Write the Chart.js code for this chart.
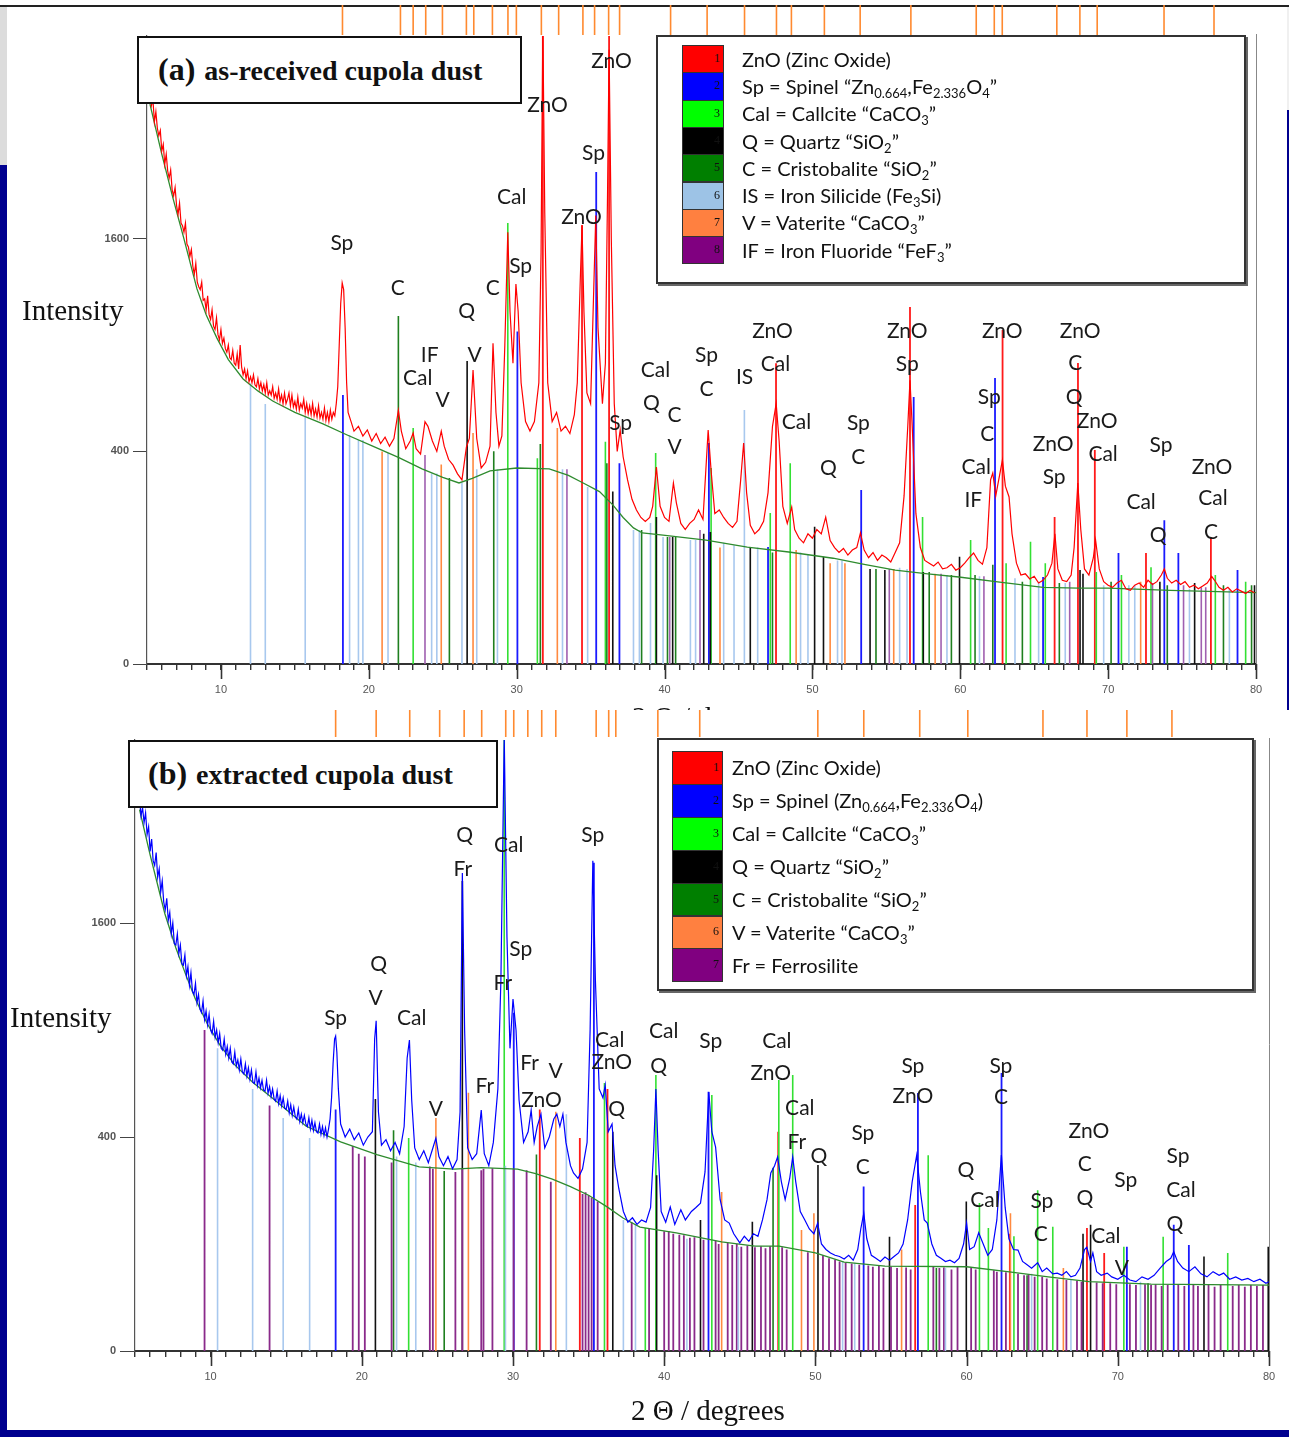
<!DOCTYPE html>
<html><head><meta charset="utf-8">
<script src="https://cdn.jsdelivr.net/npm/chart.js@4.4.1/dist/chart.umd.min.js"></script>
<style>
html,body{margin:0;padding:0;}
body{width:1289px;height:1437px;background:#00008f;position:relative;overflow:hidden;}
.abs{position:absolute;}
canvas{position:absolute;left:0;}
.tbox{position:absolute;background:#fff;border:2px solid #111;box-sizing:border-box;font-family:"Liberation Serif","DejaVu Serif",serif;font-weight:bold;color:#111;white-space:nowrap;}
.tbox .p{font-size:32px;}
.tbox .t{font-size:28px;margin-left:9px;}
.lab{position:absolute;font-family:"Liberation Serif",serif;color:#111;white-space:nowrap;line-height:1;}
.leg{position:absolute;background:#fff;border:2px solid #333;box-shadow:2px 2px 0 #666;box-sizing:border-box;}
.sw{position:absolute;box-sizing:border-box;border:1px solid #333;}
.sw span{position:absolute;right:3px;top:50%;transform:translateY(-55%);font-family:"Liberation Serif",serif;font-size:12px;color:#111;}
.lt{position:absolute;font-family:Lato,"Open Sans",sans-serif;font-size:20px;color:#111;white-space:nowrap;line-height:1;transform:translateY(-50%);}
.lt sub{font-size:13px;vertical-align:-4px;line-height:0;}
</style>
</head><body>
<div class="abs" style="left:0;top:0;width:1289px;height:5px;background:#fff"></div>
<div class="abs" style="left:0;top:5px;width:1289px;height:2px;background:#222"></div>
<div class="abs" style="left:0;top:7px;width:7px;height:158px;background:#dcdcdc"></div>
<div class="abs" style="left:1287px;top:7px;width:2px;height:103px;background:#f0f0f0"></div>
<div class="abs" style="left:7px;top:7px;width:1280px;height:703px;background:#fff"></div>
<canvas id="ca" width="1289" height="710" style="top:0"></canvas>
<div class="lab" style="left:632px;top:703px;font-size:29px;">2 &Theta; / degrees</div>
<div class="abs" style="left:7px;top:710px;width:1282px;height:720px;background:#fff"></div>
<canvas id="cb" width="1289" height="720" style="top:710px"></canvas>

<div class="tbox" style="left:137px;top:36px;width:385px;height:68px;padding-left:19px;line-height:62px;"><span class="p">(a)</span><span class="t">as-received cupola dust</span></div>
<div class="tbox" style="left:128px;top:740px;width:370px;height:68px;padding-left:18px;line-height:62px;"><span class="p">(b)</span><span class="t">extracted cupola dust</span></div>
<div class="lab" style="left:22px;top:296px;font-size:29px;">Intensity</div>
<div class="lab" style="left:10px;top:1003px;font-size:29px;">Intensity</div>
<div class="lab" style="left:631px;top:1396px;font-size:29px;">2 &Theta; / degrees</div>

<div class="leg" id="lega" style="left:656px;top:35px;width:590px;height:249px;"></div>
<div class="leg" id="legb" style="left:657px;top:738px;width:597px;height:253px;"></div>

<script>
// ---------------- DATA: (a) as-received cupola dust ----------------
const aAngles = [5.2,5.3,5.4,5.5,5.6,5.7,5.8,5.9,6.0,6.1,6.2,6.3,6.4,6.5,6.6,6.7,6.8,6.9,7.0,7.1,7.2,7.3,7.4,7.5,7.6,7.7,7.8,7.9,8.0,8.1,8.2,8.3,8.4,8.5,8.6,8.7,8.8,8.9,9.0,9.1,9.2,9.3,9.4,9.5,9.6,9.7,9.8,9.9,10.0,10.1,10.2,10.3,10.4,10.5,10.6,10.7,10.8,10.9,11.0,11.1,11.2,11.3,11.4,11.5,11.6,11.7,11.8,11.9,12.0,12.1,12.2,12.3,12.4,12.5,12.6,12.7,12.8,12.9,13.0,13.1,13.2,13.3,13.4,13.5,13.6,13.7,13.8,13.9,14.0,14.1,14.2,14.3,14.4,14.5,14.6,14.7,14.8,14.9,15.0,15.1,15.2,15.3,15.4,15.5,15.6,15.7,15.8,15.9,16.0,16.1,16.2,16.3,16.4,16.5,16.6,16.7,16.8,16.9,17.0,17.1,17.2,17.3,17.4,17.5,17.6,17.7,17.8,17.9,18.0,18.1,18.2,18.3,18.4,18.5,18.6,18.8,19.0,19.3,19.6,19.9,20.2,20.5,20.8,21.1,21.4,21.7,22.0,22.2,22.5,22.8,23.0,23.2,23.5,23.8,24.0,24.3,24.6,24.9,25.1,25.4,25.7,26.0,26.3,26.6,26.8,27.05,27.3,27.6,27.9,28.2,28.4,28.6,28.8,29.0,29.2,29.4,29.55,29.75,29.95,30.1,30.3,30.6,30.9,31.2,31.5,31.65,31.77,31.9,32.1,32.4,32.7,33.0,33.3,33.6,33.9,34.1,34.3,34.42,34.55,34.75,35.0,35.2,35.35,35.5,35.8,36.0,36.15,36.25,36.4,36.6,36.8,37.0,37.2,37.5,37.8,38.1,38.4,38.7,39.0,39.2,39.45,39.7,40.0,40.3,40.6,40.8,41.1,41.4,41.7,42.0,42.3,42.6,42.95,43.15,43.4,43.7,44.0,44.3,44.6,44.9,45.15,45.35,45.55,45.8,46.1,46.4,46.7,47.0,47.3,47.55,47.75,48.0,48.3,48.6,48.8,49.1,49.4,49.7,50.0,50.3,50.6,50.9,51.2,51.5,51.8,52.1,52.4,52.7,53.0,53.25,53.5,53.8,54.1,54.4,54.7,55.0,55.3,55.6,55.9,56.2,56.45,56.6,56.75,57.0,57.3,57.6,57.9,58.2,58.5,58.8,59.1,59.4,59.7,60.0,60.3,60.6,60.9,61.2,61.5,61.8,62.05,62.2,62.4,62.6,62.85,63.05,63.3,63.5,63.8,64.1,64.4,64.7,65.0,65.3,65.6,65.9,66.2,66.4,66.6,66.9,67.2,67.5,67.7,67.95,68.15,68.4,68.7,69.0,69.15,69.4,69.7,70.0,70.3,70.6,70.9,71.2,71.5,71.8,72.1,72.4,72.7,73.0,73.3,73.6,73.8,74.0,74.3,74.6,74.9,75.2,75.5,75.8,76.1,76.4,76.7,77.0,77.2,77.5,77.8,78.1,78.4,78.7,79.0,79.3,79.6,79.9];
const aCounts = [2880,2760,2820,2600,2700,2540,2470,2520,2330,2390,2210,2300,2150,2090,2160,1990,1940,2010,1860,1790,1880,1720,1700,1650,1720,1560,1540,1470,1520,1400,1345,1420,1290,1260,1240,1290,1170,1180,1110,1200,1080,1050,1110,1010,990,1060,960,930,990,910,940,880,860,900,830,820,870,800,790,850,770,900,780,740,770,720,760,705,730,700,740,690,680,720,670,700,660,690,650,700,640,660,640,680,625,650,620,670,610,640,600,650,600,620,650,590,640,585,610,575,630,570,600,580,620,560,600,555,590,550,600,545,575,540,590,535,560,530,580,525,560,520,570,530,560,545,600,680,900,1150,1285,1240,1000,700,560,520,480,500,460,485,440,470,430,455,420,450,570,480,410,440,472,410,390,520,500,440,400,480,420,370,350,320,300,416,450,765,450,340,360,420,910,560,420,460,900,1650,1100,800,1278,1100,700,520,480,520,700,1500,3600,1800,700,520,560,480,500,470,550,700,1300,1700,1100,650,600,1200,1780,1000,600,800,2000,3340,1600,600,400,484,380,300,240,210,190,180,190,220,343,220,190,180,290,230,175,160,175,185,210,185,484,330,200,210,190,175,165,180,300,432,260,170,150,160,180,260,500,600,440,220,175,218,160,140,130,150,140,160,150,191,135,120,110,118,105,115,120,152,115,100,110,95,105,100,92,110,130,250,500,713,500,200,120,95,90,85,92,80,82,88,78,82,90,100,109,95,88,120,300,323,250,300,368,280,247,150,90,70,72,64,68,58,62,70,90,150,80,62,60,70,120,290,160,80,70,100,136,80,60,55,52,58,62,50,48,55,58,52,62,56,60,70,80,65,58,62,56,60,52,55,50,54,58,68,62,52,48,52,46,50,47,44,48,45];
const aBgAngles = [5.2,6.0,6.76,7.5,8.38,9.0,9.73,10.5,11.5,12.5,13.5,15.0,16.9,18.5,20.3,22.0,23.6,25.0,26.1,27.0,28.2,30.0,32.2,33.5,34.5,35.6,36.5,37.2,37.9,38.5,39.9,42.8,45.6,48.4,51.4,53.5,55.6,57.8,59.9,62.8,65.6,68.0,70.0,74.2,80.0];
const aBgCounts = [2775,2300,1918,1600,1245,1080,940,820,719,660,612,560,510,465,419,378,337,308,290,305,330,340,337,315,290,263,224,190,164,152,147,136,121,111,99,88,78,72,67,59,52,51,51,48,45];

const aZnOPos = [31.77,34.42,36.25,47.54,56.60,62.86,66.38,67.96,69.10,72.56,76.95];
const aZnOInt = [3600,1706,3600,800,1128,987,191,802,405,109,143];
const aSpPos = [18.25,30.05,35.38,36.95,43.0,47.0,53.3,56.85,62.35,65.6,70.7,73.8,74.75,78.75];
const aSpInt = [640,978,2143,357,432,121,268,631,724,67,109,183,109,78];
const aCalPos = [23.0,29.4,31.4,36.0,39.4,43.15,47.15,48.5,57.45,60.7,63.1,64.75,65.75,69.2,70.9,72.9,77.25,79.3];
const aCalInt = [493,1721,375,437,394,340,202,357,191,136,90,132,90,75,70,83,70,60];
const aQPos = [26.65,36.5,39.45,40.55,42.65,43.1,45.8,50.15,50.75,53.9,54.9,57.5,59.95,68.1,68.3,73.5,75.85,79.9];
const aQInt = [813,263,191,143,150,154,121,167,102,80,78,75,102,78,72,60,58,55];
const aCPos = [22.0,25.45,28.45,31.6,36.1,38.45,40.2,40.75,47.3,54.3,57.9,59.4,61.0,62.2,64.2,66.7,70.2,74.0,77.8,79.7];
const aCInt = [1071,306,401,428,357,159,143,143,110,80,75,70,70,87,60,58,60,55,55,55];
const aISPos = [12.0,13.0,15.7,18.7,19.3,19.6,21.3,24.25,24.6,26.3,27.3,28.7,33.1,34.8,37.9,38.3,39.05,39.9,41.75,42.1,44.0,44.7,45.4,46.3,49.2,49.7,51.7,52.0,55.9,56.4,59.1,61.3,63.7,65.3,67.1,69.7,71.4,71.8,75.5,78.2];
const aISInt = [698,598,540,464,444,444,394,321,321,291,336,336,336,277,159,159,176,143,136,136,130,125,571,120,110,105,95,95,82,80,70,68,65,60,58,55,55,55,50,50];
const aVPos = [20.9,24.9,27.05,32.75,43.75,48.9,51.2,52.2,55.5,58.3,72.2];
const aVInt = [400,352,472,493,120,115,90,90,80,72,60];
const aIFPos = [23.8,33.4,40.35,42.4,55.2,58.7,61.6,67.4,73.0,75.1,76.3,76.6];
const aIFInt = [387,336,143,159,80,72,68,60,58,55,52,52];
const aStripPos = [18.22,22.14,23.0,23.85,24.98,26.6,27.1,28.36,29.41,29.98,31.67,32.84,34.48,35.27,36.22,36.96,40.41,42.88,45.41,47.57,48.58,50.81,53.23,56.66,61.08,62.3,62.84,66.53,68.09,69.26,73.78,77.16];
const aStripRange = [3501,3844];

const aLabels = [["ZnO",36.42,3218],["ZnO",32.09,2765],["Sp",35.2,2311],["Cal",29.66,1930],["ZnO",34.39,1768],["Sp",18.18,1568],["Sp",30.27,1402],["C",21.96,1251],["C",28.38,1251],["Q",26.62,1103],["IF",24.12,845],["V",27.16,845],["Cal",23.31,724],["V",25.0,617],
["Cal",39.39,765],["Q",39.12,603],["C",40.68,549],["V",40.68,417],["Sp",42.84,845],["C",42.84,669],["Sp",37.03,514],["IS",45.41,729],["ZnO",47.3,981],["Cal",47.5,797],["Cal",48.92,518],["Sp",53.11,514],["C",53.11,379],["Q",51.08,340],
["ZnO",56.42,981],["Sp",56.42,797],["ZnO",62.84,981],["Sp",61.96,631],["C",61.82,468],["Cal",61.08,343],["IF",60.88,238],["ZnO",68.11,981],["C",67.77,802],["Q",67.7,631],["ZnO",69.26,523],["Cal",69.66,390],["ZnO",66.28,428],["Sp",66.35,309],["Sp",73.58,424],["Cal",72.23,232],["Q",73.38,147],["ZnO",77.03,343],["Cal",77.09,244],["C",76.96,154]];

// ---------------- DATA: (b) extracted cupola dust ----------------
const bAngles = [5.3,5.4,5.5,5.6,5.7,5.8,5.9,6.0,6.1,6.2,6.3,6.4,6.5,6.6,6.7,6.8,6.9,7.0,7.1,7.2,7.3,7.4,7.5,7.6,7.7,7.8,7.9,8.0,8.1,8.2,8.3,8.4,8.5,8.6,8.7,8.8,8.9,9.0,9.1,9.2,9.3,9.4,9.5,9.6,9.7,9.8,9.9,10.0,10.1,10.2,10.3,10.4,10.5,10.6,10.7,10.8,10.9,11.0,11.1,11.2,11.3,11.4,11.5,11.6,11.7,11.8,11.9,12.0,12.1,12.2,12.3,12.4,12.5,12.6,12.7,12.8,12.9,13.0,13.1,13.2,13.3,13.4,13.5,13.6,13.7,13.8,13.9,14.0,14.1,14.2,14.3,14.4,14.5,14.6,14.7,14.8,14.9,15.0,15.1,15.2,15.3,15.4,15.5,15.6,15.7,15.8,15.9,16.0,16.1,16.2,16.3,16.4,16.5,16.6,16.7,16.8,16.9,17.0,17.1,17.2,17.3,17.4,17.5,17.6,17.7,17.8,17.9,18.0,18.1,18.2,18.27,18.35,18.45,18.6,18.9,19.2,19.5,19.8,20.1,20.4,20.7,20.85,20.95,21.1,21.3,21.6,21.9,22.2,22.5,22.8,23.0,23.15,23.3,23.5,23.8,24.1,24.4,24.7,24.9,25.1,25.4,25.7,26.0,26.3,26.5,26.65,26.8,27.0,27.3,27.6,27.9,28.1,28.4,28.7,29.0,29.2,29.42,29.6,29.8,30.0,30.2,30.4,30.7,31.0,31.2,31.4,31.6,31.85,32.1,32.4,32.7,32.9,33.1,33.3,33.5,33.8,34.0,34.3,34.6,34.9,35.1,35.28,35.45,35.7,35.95,36.1,36.3,36.55,36.75,37.0,37.3,37.6,37.9,38.2,38.5,38.8,39.1,39.3,39.45,39.6,39.8,40.1,40.4,40.7,41.1,41.4,41.8,42.1,42.4,42.7,42.95,43.15,43.4,43.7,44.0,44.3,44.6,45.0,45.3,45.6,45.9,46.2,46.5,46.8,47.05,47.3,47.5,47.75,48.0,48.3,48.5,48.7,49.0,49.3,49.6,49.9,50.15,50.4,50.7,51.0,51.3,51.6,51.9,52.2,52.5,52.8,53.0,53.2,53.4,53.7,54.0,54.3,54.6,54.9,55.2,55.5,55.8,56.1,56.4,56.7,56.95,57.2,57.4,57.7,58.0,58.3,58.6,58.9,59.2,59.5,59.8,60.0,60.2,60.5,60.8,61.1,61.4,61.7,62.0,62.3,62.55,62.8,63.1,63.4,63.7,64.0,64.3,64.7,65.0,65.3,65.7,66.0,66.3,66.6,66.9,67.2,67.5,67.8,67.95,68.2,68.35,68.6,68.9,69.3,69.6,70.0,70.4,70.8,71.2,71.6,72.0,72.4,72.8,73.2,73.5,73.7,73.95,74.3,74.7,75.1,75.5,75.9,76.3,76.7,77.0,77.4,77.8,78.2,78.6,79.0,79.4,79.8,80.0];
const bCounts = [2660,2500,2580,2440,2530,2330,2400,2180,2290,2100,2060,2170,1960,2030,1840,1930,1760,1700,1790,1620,1680,1520,1600,1450,1440,1520,1380,1440,1310,1300,1370,1230,1290,1170,1250,1130,1110,1180,1060,1110,1020,1000,1070,960,1010,930,990,900,880,950,860,900,830,880,800,790,850,770,810,750,800,730,720,780,710,740,690,745,680,670,720,660,700,645,690,630,625,680,615,650,605,640,595,590,640,580,610,565,600,555,545,590,535,570,525,560,515,510,545,495,530,485,520,480,470,510,460,490,455,485,450,440,475,430,465,425,455,420,415,450,410,440,405,435,400,430,470,560,720,850,866,780,600,450,400,430,390,415,370,400,420,850,953,500,370,390,350,380,340,440,750,845,550,360,320,350,310,360,396,330,300,330,290,320,500,1995,900,360,320,340,507,340,300,380,600,1200,3300,1500,800,1082,900,550,380,420,507,380,440,490,360,400,470,490,440,490,380,300,277,260,290,380,900,2100,1200,600,560,618,420,450,300,230,170,145,155,140,150,145,180,350,600,350,170,145,181,140,174,150,170,180,191,280,586,420,363,200,150,143,120,102,115,105,120,115,150,200,277,300,329,250,200,260,329,250,170,150,130,120,143,100,90,84,80,78,74,80,72,90,130,166,110,80,75,70,77,72,78,84,100,150,250,335,220,150,143,100,80,75,70,72,68,75,100,143,90,95,122,100,80,90,150,335,180,110,90,89,70,65,60,68,55,60,52,53,50,55,48,50,60,90,94,70,84,55,50,53,48,45,50,44,42,48,45,50,60,70,75,86,70,60,55,62,52,48,55,50,53,45,48,44,46,42,45,40,42];
const bBgAngles = [5.3,6.0,6.98,7.7,8.37,9.0,9.79,10.6,11.6,12.8,14.0,16.3,18.6,21.0,23.8,26.1,27.9,30.3,31.5,32.6,33.8,35.0,36.2,37.3,38.4,40.8,43.8,46.0,47.6,50.0,51.9,54.6,60.0,62.7,65.4,68.1,72.2,80.0];
const bBgCounts = [2560,2150,1668,1420,1234,1080,934,820,715,630,563,442,382,337,296,289,294,289,275,258,236,212,182,154,134,122,104,96,96,84,69,63,62,55,48,42,39,38];

const bZnOPos = [31.77,34.42,36.25,47.54,56.60,62.86,67.96,69.10];
const bZnOInt = [509,396,600,420,186,120,132,84];
const bSpPos = [18.27,30.05,35.35,42.93,53.19,56.78,62.31,70.6,73.7,74.7];
const bSpInt = [509,1000,2082,587,236,581,675,95,139,98];
const bCalPos = [23.1,29.42,36.05,38.75,39.45,43.15,47.58,48.5,57.46,60.85,61.44,63.13,64.7,65.7,70.4,73.0,77.27];
const bCalInt = [396,3400,627,132,665,572,641,665,335,191,132,115,226,135,95,114,84];
const bQPos = [20.9,26.65,36.6,39.5,42.4,45.83,50.17,54.9,59.98,67.7,68.2,75.7,79.95];
const bQInt = [555,1929,420,270,150,146,302,114,195,120,139,78,95];
const bCPos = [22.1,25.45,31.55,47.2,58.0,64.0,72.0];
const bCInt = [426,283,337,293,60,50,40];
const bVPos = [24.9,27.05,32.83,43.8,49.08,49.9,55.7,62.9,66.4];
const bVInt = [474,582,500,221,128,166,90,166,60];
const bISPos = [10.46,12.78,14.8,16.55,22.3,23.57,29.5,33.53,37.3,38.1,41.5,44.9,51.8,52.6,58.6,64.3,66.9,71.5];
const bISInt = [801,600,474,396,330,310,300,490,150,140,110,95,70,68,60,52,45,42];
const bFrPos = [9.6,13.9,19.4,19.8,20.2,21.97,24.5,24.7,26.19,26.65,27.9,28.05,28.64,30.04,30.9,32.5,34.6,34.8,35.0,35.2,35.6,37.85,39.0,40.0,40.3,40.6,41.0,41.3,41.7,42.0,42.6,43.4,43.6,44.2,44.5,44.8,45.1,45.5,46.0,46.4,46.7,47.0,47.8,48.1,49.5,50.5,50.9,51.3,51.6,52.0,52.4,52.9,53.5,53.8,54.2,54.5,55.0,55.4,56.0,56.3,57.8,58.2,58.5,59.0,59.4,60.3,60.6,61.8,62.0,62.6,63.4,63.8,64.1,64.5,65.0,65.3,66.0,66.6,67.3,67.6,68.6,69.0,69.5,69.9,70.8,71.2,71.8,72.2,72.5,72.9,73.3,74.0,74.4,75.0,75.3,76.0,76.4,76.8,77.6,78.0,78.4,78.8,79.2,79.6];
const bFrInt = [900,526,367,340,330,310,297,290,280,289,285,290,292,289,285,250,215,220,212,205,195,144,130,125,126,120,118,117,112,113,108,106,100,102,98,100,95,97,94,96,92,96,94,90,85,80,75,73,70,68,67,65,64,62,63,60,62,60,61,58,62,60,61,58,62,60,58,57,55,54,52,50,51,48,48,46,45,44,43,42,41,40,40,39,39,38,39,38,39,37,38,39,37,38,37,38,36,38,37,38,36,38,37,38];
const bStripPos = [18.27,20.95,23.17,25.15,26.77,27.93,29.52,30.05,30.98,31.9,32.83,35.5,36.33,36.8,39.58,42.35,50.16,53.2,56.9,60.08,65.05,67.96,70.6,73.58];
const bStripRange = [3293,3588];

const bLabels = [["Q",26.81,2325],["Fr",26.68,2029],["Cal",29.72,2236],["Sp",35.28,2325],["Sp",30.51,1412],["Fr",29.32,1183],["Q",21.12,1308],["V",20.92,1088],["Sp",18.27,969],["Cal",23.3,969],["Fr",31.1,724],["V",32.82,685],["Fr",28.13,613],["ZnO",31.89,550],["V",24.89,511],
["Cal",36.4,845],["ZnO",36.53,729],["Q",36.86,511],["Cal",39.97,894],["Q",39.64,709],["Sp",43.08,839],["Cal",47.45,839],["ZnO",47.05,675],["Cal",48.97,516],["Fr",48.77,382],["Q",50.23,332],["Sp",53.14,415],["C",53.14,296],["Sp",56.45,709],["ZnO",56.45,568],["Sp",62.27,709],["C",62.27,563],["Q",59.96,286],["Cal",61.21,199],["Sp",64.98,196],["C",64.91,120],["ZnO",68.09,423],["C",67.82,305],["Q",67.82,204],["Cal",69.21,116],["V",70.27,60],["Sp",70.53,255],["Sp",73.98,332],["Cal",74.18,226],["Q",73.78,141]];

// axis tick values (intensity)
const yTickLabels = [0, 400, 1600];
const xMajorTicks = [10, 20, 30, 40, 50, 60, 70, 80];

// ---------------- legends ----------------
const legendA = [["#ff0000","1","ZnO (Zinc Oxide)"],["#0000ff","2","Sp = Spinel “Zn<sub>0.664</sub>,Fe<sub>2.336</sub>O<sub>4</sub>”"],["#00ff00","3","Cal = Callcite “CaCO<sub>3</sub>”"],["#000000","4","Q = Quartz “SiO<sub>2</sub>”"],["#007f00","5","C = Cristobalite “SiO<sub>2</sub>”"],["#9dc3e6","6","IS = Iron Silicide (Fe<sub>3</sub>Si)"],["#ff8040","7","V = Vaterite “CaCO<sub>3</sub>”"],["#800080","8","IF = Iron Fluoride “FeF<sub>3</sub>”"]];
const legendB = [["#ff0000","1","ZnO (Zinc Oxide)"],["#0000ff","2","Sp = Spinel (Zn<sub>0.664</sub>,Fe<sub>2.336</sub>O<sub>4</sub>)"],["#00ff00","3","Cal = Callcite “CaCO<sub>3</sub>”"],["#000000","4","Q = Quartz “SiO<sub>2</sub>”"],["#007f00","5","C = Cristobalite “SiO<sub>2</sub>”"],["#ff8040","6","V = Vaterite “CaCO<sub>3</sub>”"],["#800080","7","Fr = Ferrosilite"]];

function buildLegend(id, items, sx, sy, sw, rh, tx){
  const el = document.getElementById(id);
  items.forEach((it,i)=>{
    const s = document.createElement('div');
    s.className='sw';
    s.style.cssText = `left:${sx}px;top:${sy+i*rh}px;width:${sw}px;height:${rh+1}px;background:${it[0]};`;
    s.innerHTML = `<span>${it[1]}</span>`;
    el.appendChild(s);
    const t = document.createElement('div');
    t.className='lt';
    t.style.left = tx+'px';
    t.style.top = (sy + i*rh + rh/2)+'px';
    t.innerHTML = it[2];
    el.appendChild(t);
  });
}
buildLegend('lega', legendA, 24, 8, 42, 27.3, 84);
buildLegend('legb', legendB, 13, 11, 51, 32.9, 73);

// ---------------- chart helpers ----------------
const sq = v => Math.sqrt(Math.max(0, v));
function profile(xs, ys){ return xs.map((x,i)=>({x:x, y:sq(ys[i])})); }
function sticks(pos, h){ const o=[]; pos.forEach((x,i)=>{ o.push({x:x,y:0},{x:x,y:sq(h[i])},{x:x,y:null}); }); return o; }
function strip(pos, r){ const o=[]; pos.forEach(x=>{ o.push({x:x,y:sq(r[0])},{x:x,y:sq(r[1])},{x:x,y:null}); }); return o; }

const xrdPlugin = {
  id:'xrd',
  afterDatasetsDraw(chart, args, opts){
    const ctx = chart.ctx, xs = chart.scales.x, ys = chart.scales.y;
    ctx.save();
    ctx.font = '21px Lato, "Open Sans", sans-serif';
    ctx.fillStyle = '#1a1a1a';
    ctx.textAlign = 'center'; ctx.textBaseline = 'middle';
    (opts.labels||[]).forEach(l=>{ ctx.fillText(l[0], xs.getPixelForValue(l[1]), ys.getPixelForValue(sq(l[2]))); });
    ctx.restore();
  },
  afterDraw(chart){
    const ctx = chart.ctx, xs = chart.scales.x, ca = chart.chartArea;
    ctx.save();
    ctx.strokeStyle = '#333'; ctx.lineWidth = 1.6;
    xMajorTicks.forEach(v=>{ const px = Math.round(xs.getPixelForValue(v))+0.5; ctx.beginPath(); ctx.moveTo(px, ca.bottom); ctx.lineTo(px, ca.bottom+15); ctx.stroke(); });
    ctx.strokeStyle = '#888'; ctx.lineWidth = 1;
    ctx.beginPath(); ctx.moveTo(Math.round(ca.right)+0.5, ca.top-2); ctx.lineTo(Math.round(ca.right)+0.5, ca.bottom); ctx.stroke();
    ctx.restore();
  }
};

function makeChart(id, c){
  const ds = [];
  ds.push({data: profile(c.angles, c.counts), borderColor: c.lineColor, borderWidth: 1.2});
  ds.push({data: profile(c.bgAngles, c.bgCounts), borderColor: '#2e8b2e', borderWidth: 1.3});
  c.phases.forEach(p=> ds.push({data: sticks(p[0], p[1]), borderColor: p[2], borderWidth: p[3]||1.6}));
  ds.push({data: strip(c.stripPos, c.stripRange), borderColor: '#ff8a30', borderWidth: 1.6, clip: false});
  ds.forEach(d=>{ d.showLine = true; d.pointRadius = 0; d.tension = 0; d.spanGaps = false; d.fill = false; });
  return new Chart(document.getElementById(id), {
    type: 'scatter',
    data: {datasets: ds},
    plugins: [xrdPlugin],
    options: {
      responsive: false, animation: false, events: [],
      layout: {padding: {left: 0, right: c.padRight, top: c.padTop, bottom: 0}},
      plugins: {legend: {display: false}, tooltip: {enabled: false}, xrd: {labels: c.labels}},
      scales: {
        x: {type: 'linear', min: 5, max: 80,
          afterFit: s => { s.height = c.xh; },
          afterBuildTicks: s => { const t=[]; for (let v=5; v<=80; v++) t.push({value:v}); s.ticks = t; },
          ticks: {callback: v => (v % 10 === 0 ? String(v) : ''), autoSkip: false, maxRotation: 0, padding: 13,
            font: {family: '"Liberation Sans", Arial, sans-serif', size: 11}, color: '#555'},
          grid: {display: true, drawOnChartArea: false, drawTicks: true, tickLength: 6, color: '#333', lineWidth: 1.4},
          border: {display: true, color: '#333', width: 2}},
        y: {type: 'linear', min: 0, max: c.ymax,
          afterFit: s => { s.width = c.yw; },
          afterBuildTicks: s => { s.ticks = yTickLabels.map(v => ({value: sq(v)})); },
          ticks: {callback: v => String(Math.round(v*v)), padding: 4,
            font: {family: '"Liberation Sans", Arial, sans-serif', size: 11, weight: 'bold'}, color: '#555'},
          grid: {display: true, drawOnChartArea: false, drawTicks: true, tickLength: c.ytl, color: '#444', lineWidth: 1},
          border: {display: true, color: '#555', width: 1.2}}
      }
    }
  });
}

makeChart('ca', {
  angles: aAngles, counts: aCounts, bgAngles: aBgAngles, bgCounts: aBgCounts, lineColor: '#ff0000',
  phases: [[aISPos,aISInt,'#a8c8ee'],[aIFPos,aIFInt,'#a060b0'],[aVPos,aVInt,'#ff8a40'],[aCPos,aCInt,'#1f7f1f'],[aQPos,aQInt,'#111111'],[aCalPos,aCalInt,'#33e033'],[aSpPos,aSpInt,'#1a1aff',1.8],[aZnOPos,aZnOInt,'#ff1a1a',1.8]],
  stripPos: aStripPos, stripRange: aStripRange, labels: aLabels,
  padRight: 33, padTop: 36, xh: 46, yw: 147, ytl: 14, ymax: (664-36)/10.63
});
makeChart('cb', {
  angles: bAngles, counts: bCounts, bgAngles: bBgAngles, bgCounts: bBgCounts, lineColor: '#0000ff',
  phases: [[bISPos,bISInt,'#a8c8ee'],[bFrPos,bFrInt,'#8a2a8a',1.8],[bVPos,bVInt,'#ff8a40'],[bCPos,bCInt,'#1f7f1f'],[bQPos,bQInt,'#111111'],[bCalPos,bCalInt,'#33e033'],[bSpPos,bSpInt,'#1a1aff',1.8],[bZnOPos,bZnOInt,'#ff1a1a',1.8]],
  stripPos: bStripPos, stripRange: bStripRange, labels: bLabels,
  padRight: 20, padTop: 30, xh: 79, yw: 135, ytl: 15, ymax: (641-30)/10.7
});
</script>
</body></html>
